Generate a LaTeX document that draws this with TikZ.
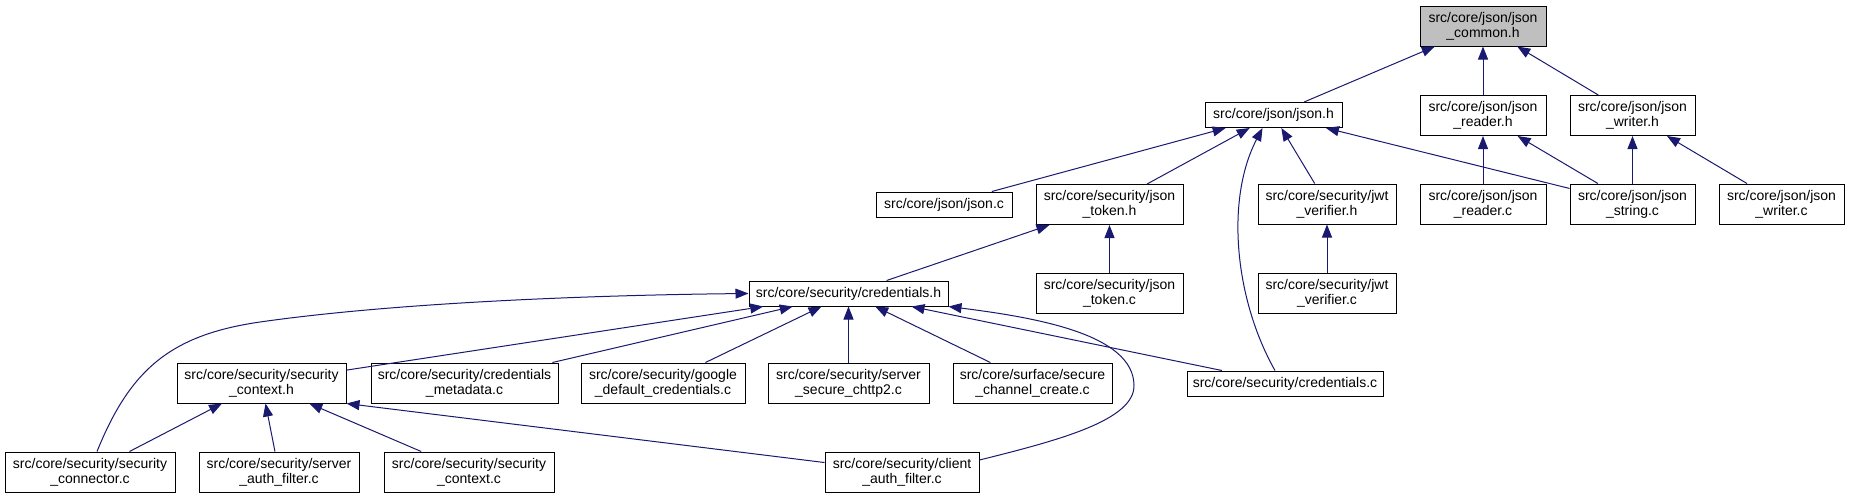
\documentclass[tikz,border=0pt]{standalone}
\usepackage{fontspec}
\setmainfont{Liberation Sans}
\usetikzlibrary{arrows.meta}
\definecolor{midnightblue}{RGB}{25,25,112}

\begin{document}
\begin{tikzpicture}[x=1pt,y=-1pt,
  file/.style={draw=black,line width=1pt,fill=white,inner sep=0pt,align=center,
    minimum height=40pt,font=\fontsize{14}{15}\selectfont},
  thin file/.style={file,minimum height=25pt},
  dep/.style={midnightblue,line width=1pt,-{Triangle[length=13pt,width=10pt]}}]
\useasboundingbox (0,0) rectangle (1850,499);
% the header that all others include
\node[file,fill=black!25,minimum width=126pt] (common) at (1483,26) {src/core/json/json\\\_common.h};
% json headers
\node[thin file,minimum width=137pt] (jsonh) at (1273.5,115) {src/core/json/json.h};
\node[file,minimum width=126pt] (readerh) at (1483,115.5) {src/core/json/json\\\_reader.h};
\node[file,minimum width=125pt] (writerh) at (1632.5,115.5) {src/core/json/json\\\_writer.h};
\node[thin file,minimum width=136pt] (jsonc) at (944,204.5) {src/core/json/json.c};
\node[file,minimum width=147pt] (tokenh) at (1109.5,204.5) {src/core/security/json\\\_token.h};
\node[file,minimum width=138pt] (jwth) at (1327,204) {src/core/security/jwt\\\_verifier.h};
\node[file,minimum width=126pt] (readerc) at (1483,204) {src/core/json/json\\\_reader.c};
\node[file,minimum width=125pt] (stringc) at (1632.5,204) {src/core/json/json\\\_string.c};
\node[file,minimum width=125pt] (writerc) at (1781.5,204) {src/core/json/json\\\_writer.c};
% security
\node[thin file,minimum width=199pt] (credh) at (848.5,293.5) {src/core/security/credentials.h};
\node[file,minimum width=147pt] (tokenc) at (1109.5,293.5) {src/core/security/json\\\_token.c};
\node[file,minimum width=138pt] (jwtc) at (1327,293.5) {src/core/security/jwt\\\_verifier.c};
\node[file,minimum width=169pt] (secctxh) at (261.5,383) {src/core/security/security\\\_context.h};
\node[file,minimum width=187pt] (metac) at (464.5,383) {src/core/security/credentials\\\_metadata.c};
\node[file,minimum width=164pt] (googlec) at (663,383) {src/core/security/google\\\_default\_credentials.c};
\node[file,minimum width=161pt] (chttp2c) at (848.5,383) {src/core/security/server\\\_secure\_chttp2.c};
\node[file,minimum width=159pt] (securec) at (1032.5,383) {src/core/surface/secure\\\_channel\_create.c};
\node[thin file,minimum width=196pt] (credc) at (1285,383.5) {src/core/security/credentials.c};
\node[file,minimum width=170pt] (secconnc) at (90,472) {src/core/security/security\\\_connector.c};
\node[file,minimum width=160pt] (authfc) at (279,472) {src/core/security/server\\\_auth\_filter.c};
\node[file,minimum width=170pt] (secctxc) at (469,472) {src/core/security/security\\\_context.c};
\node[file,minimum width=154pt] (clientc) at (902,472) {src/core/security/client\\\_auth\_filter.c};
% straight includes
\foreach \a/\b in {jsonh/common,readerh/common,writerh/common,
  jsonc/jsonh,tokenh/jsonh,jwth/jsonh,stringc/jsonh,
  readerc/readerh,stringc/readerh,stringc/writerh,writerc/writerh,
  credh/tokenh,tokenc/tokenh,jwtc/jwth,
  secctxh/credh,metac/credh,googlec/credh,chttp2c/credh,securec/credh,credc/credh,
  secconnc/secctxh,authfc/secctxh,secctxc/secctxh}
  \draw[dep] (\a) -- (\b);
\draw[dep] (clientc) -- (secctxh.south east);
% bent includes
\draw[dep] ([xshift=7pt]secconnc.north) .. controls (130,370) and (170,335) .. (260,322)
  .. controls (400,302) and (600,295) .. (credh.west);
\draw[dep] ([xshift=-10pt]credc.north) .. controls (1235,300) and (1225,200) .. ([xshift=-11pt]jsonh.south);
\draw[dep] ([yshift=12pt]clientc.east) .. controls (1060,440) and (1135,420) .. (1134,385)
  .. controls (1133,335) and (1040,318) .. (credh.south east);
\end{tikzpicture}
\end{document}
